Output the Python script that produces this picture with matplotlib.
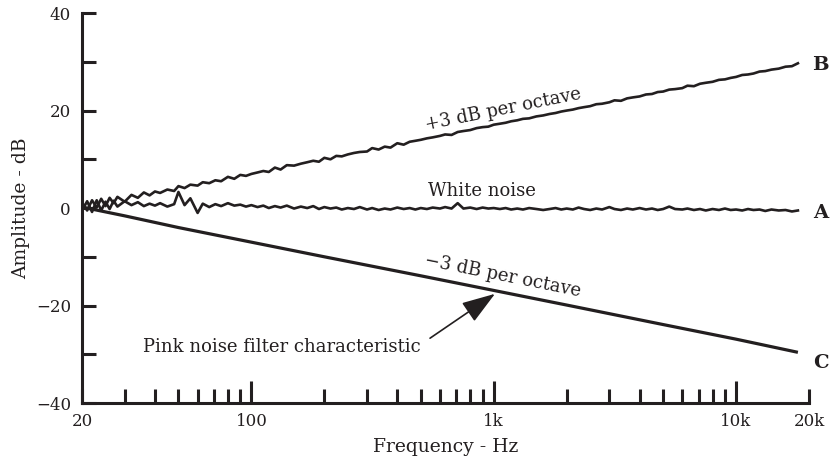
import matplotlib
matplotlib.use("Agg")
import matplotlib.pyplot as plt

# ---------------- data ----------------
freq = [20, 21, 22, 23, 24, 25, 26, 27, 28, 30, 32, 34, 36, 38, 40, 42, 45, 48, 50, 53,
        56, 60, 63, 67, 71, 75, 80, 85, 90, 95,
        100, 106, 112, 118, 125, 132, 140, 150, 160, 170, 180, 190, 200, 212, 224, 236,
        250, 265, 280, 300, 315, 335, 355, 375, 400, 425, 450, 475, 500, 530, 560, 600,
        630, 670, 710, 750, 800, 850, 900, 950,
        1000, 1060, 1120, 1180, 1250, 1320, 1400, 1500, 1600, 1700, 1800, 1900, 2000,
        2120, 2240, 2360, 2500, 2650, 2800, 3000, 3150, 3350, 3550, 3750, 4000, 4250,
        4500, 4750, 5000, 5300, 5600, 6000, 6300, 6700, 7100, 7500, 8000, 8500, 9000, 9500,
        10000, 10600, 11200, 11800, 12500, 13200, 14000, 15000, 16000, 17000, 18000]

curve_b = [1.2, -0.5, 1.6, 0.1, 1.9, 0.4, 2.1, 1.0, 2.3, 1.3, 2.7, 2.1, 3.2, 2.6, 3.4, 3.1,
           3.8, 3.5, 4.5, 4.1, 4.8, 4.6, 5.3, 5.1, 5.7, 5.5, 6.4, 6.0, 6.8, 6.6,
           7.0, 7.3, 7.6, 7.4, 8.3, 7.9, 8.8, 8.7, 9.1, 9.4, 9.7, 9.5, 10.3, 10.0, 10.7,
           10.6, 11.0, 11.3, 11.5, 11.6, 12.3, 12.0, 12.6, 12.4, 13.3, 13.0, 13.6, 13.8,
           14.0, 14.3, 14.5, 14.8, 15.1, 15.0, 15.6, 15.8, 16.0, 16.4, 16.6, 16.7,
           17.1, 17.3, 17.5, 17.8, 18.0, 18.3, 18.4, 18.8, 19.0, 19.3, 19.5, 19.8, 20.0,
           20.2, 20.5, 20.7, 20.9, 21.3, 21.4, 21.7, 22.1, 22.0, 22.5, 22.7, 22.9, 23.3,
           23.4, 23.8, 23.9, 24.3, 24.4, 24.6, 25.1, 25.0, 25.5, 25.7, 25.9, 26.3, 26.4, 26.7,
           26.9, 27.3, 27.4, 27.6, 28.0, 28.1, 28.4, 28.6, 29.0, 29.1, 29.7]

curve_a = [-0.6, 1.4, -0.8, 1.6, -0.5, 1.3, -0.2, 1.5, 0.3, 1.4, 0.6, 1.2, 0.4, 0.9, 0.5,
           1.0, 0.3, 0.8, 3.3, 0.6, 2.0, -1.0, 0.9, 0.2, 0.8, 0.4, 1.0, 0.5, 0.7, 0.3,
           0.6, 0.2, 0.5, 0.0, 0.4, 0.1, 0.5, -0.1, 0.3, 0.0, 0.4, -0.2, 0.2, -0.1, 0.1,
           -0.3, 0.0, -0.2, 0.2, -0.3, 0.0, -0.4, -0.1, -0.3, 0.1, -0.2, 0.0, -0.3, 0.0,
           -0.2, 0.1, -0.1, 0.2, -0.1, 1.0, -0.1, 0.1, -0.2, 0.1, -0.1,
           0.0, -0.2, 0.0, -0.3, -0.1, -0.3, 0.0, -0.2, -0.4, -0.2, 0.0, -0.3, -0.1,
           -0.3, 0.1, -0.2, -0.4, -0.1, -0.3, 0.2, -0.2, -0.4, -0.1, -0.3, 0.0, -0.3,
           -0.1, -0.4, -0.2, 0.3, -0.2, -0.3, -0.1, -0.4, -0.2, -0.5, -0.2, -0.4, -0.1, -0.4,
           -0.3, -0.5, -0.2, -0.4, -0.3, -0.6, -0.3, -0.5, -0.4, -0.7, -0.5]

freq_c = [20, 30, 50, 100, 200, 500, 1000, 2000, 5000, 10000, 18000]
curve_c = [0.2, -1.6, -4.0, -7.0, -10.0, -13.9, -16.9, -19.9, -23.9, -26.9, -29.6]

x_major = [100, 1000, 10000]
x_major_labels = ["100", "1k", "10k"]
x_minor = [20, 30, 40, 50, 60, 70, 80, 90, 200, 300, 400, 500, 600, 700, 800, 900,
           2000, 3000, 4000, 5000, 6000, 7000, 8000, 9000, 20000]
x_minor_labels = ["20"] + [""] * 23 + ["20k"]
y_major = [-40, -20, 0, 20, 40]
y_major_labels = ["\u221240", "\u221220", "0", "20", "40"]
y_minor = [-30, -10, 10, 30]

# ---------------- figure ----------------
INK = "#231f20"
plt.rcParams["font.family"] = ["DejaVu Serif"]
plt.rcParams["text.color"] = INK

fig = plt.figure(figsize=(8.30, 4.67), dpi=100)
ax = fig.add_axes([0.0988, 0.137, 0.8759, 0.835])

ax.plot(freq, curve_b, color=INK, lw=1.9, solid_joinstyle="round")
ax.plot(freq, curve_a, color=INK, lw=1.9, solid_joinstyle="round")
ax.plot(freq_c, curve_c, color=INK, lw=2.3, solid_capstyle="butt")

ax.set_xscale("log")
ax.set_xlim(20, 20000)
ax.set_ylim(-40, 40)

for s in ("top", "right"):
    ax.spines[s].set_visible(False)
for s in ("left", "bottom"):
    ax.spines[s].set_linewidth(2.2)
    ax.spines[s].set_color(INK)
    ax.spines[s].set_capstyle("projecting")

ax.set_xticks(x_major, labels=x_major_labels)
ax.set_xticks(x_minor, labels=x_minor_labels, minor=True)
ax.set_yticks(y_major, labels=y_major_labels)
ax.set_yticks(y_minor, minor=True)

ax.tick_params(axis="both", which="both", direction="in", width=2.2, color=INK,
               labelcolor=INK, labelsize=12)
ax.tick_params(axis="x", which="major", length=16, pad=7)
ax.tick_params(axis="x", which="minor", length=10, pad=7)
ax.tick_params(axis="y", which="both", length=10, pad=8)

ax.set_xlabel("Frequency - Hz", fontsize=13.5, color=INK, labelpad=6)
ax.set_ylabel("Amplitude - dB", fontsize=13.5, color=INK, labelpad=4)

# ---------------- annotations ----------------
ax.text(1092, 20.3, "+3 dB per octave", fontsize=13, rotation=11.4,
        ha="center", va="center", rotation_mode="anchor", color=INK)
ax.text(895, 3.5, "White noise", fontsize=13, ha="center", va="center", color=INK)
ax.text(1092, -13.9, "\u22123 dB per octave", fontsize=13, rotation=-11.4,
        ha="center", va="center", rotation_mode="anchor", color=INK)
ax.text(35.7, -28.5, "Pink noise filter characteristic", fontsize=13,
        ha="left", va="center", color=INK)
ax.annotate("", xy=(1012, -17.6), xytext=(546, -26.7),
            arrowprops=dict(arrowstyle="-|>,head_length=0.8,head_width=0.27",
                            mutation_scale=26, lw=1.2,
                            color=INK, shrinkA=0, shrinkB=0))

for lbl, yv in (("B", 29.4), ("A", -1.0), ("C", -31.7)):
    ax.text(22300, yv, lbl, fontsize=14, fontweight="bold", ha="center",
            va="center", color=INK, clip_on=False)

fig.savefig("out.png", dpi=100)
